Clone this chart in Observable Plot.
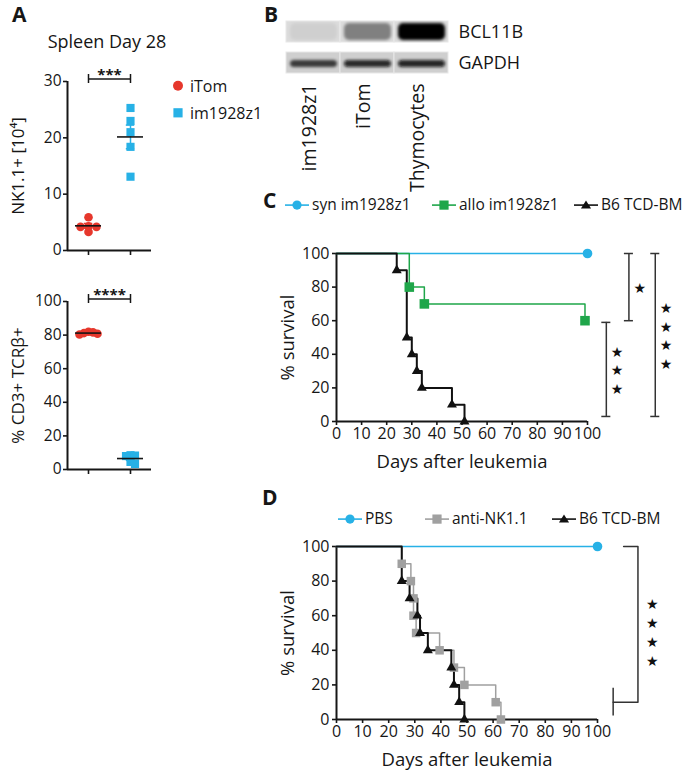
<!DOCTYPE html>
<html><head><meta charset="utf-8">
<script src="https://cdn.jsdelivr.net/npm/d3@7"></script>
<script src="https://cdn.jsdelivr.net/npm/@observablehq/plot@0.6"></script>
<style>
body{margin:0;background:#fff;}
#fig{position:relative;width:685px;height:772px;font-family:"Open Sans",sans-serif;color:#161616;overflow:hidden;background:#fff}
#fig svg{position:absolute;overflow:visible}
#fig svg g[aria-label$="axis tick"]{stroke-width:1.6px}
#fig svg g[aria-label$="tick label"]{font-weight:500}
.scat g[aria-label$="axis label"]{font-size:17px;font-weight:500}
.surv g[aria-label$="axis label"]{font-size:18.5px;font-weight:500}
.blot g[aria-label="y-axis tick label"]{font-size:18px}
.blot g[aria-label="x-axis tick label"]{font-size:19.5px}
</style></head><body><div id="fig"></div><script>
// ---------------- DATA ----------------
// Panel A
const groupsA = ["iTom", "im1928z1"];
const nkTicks = [0, 10, 20, 30];
const nk_iTom = [5.9, 4.3, 4.2, 4.2, 3.3];
const nk_im1928z1 = [25.3, 23.0, 21.0, 18.4, 13.1];
const cdTicks = [0, 20, 40, 60, 80, 100];
const cd_iTom = [82.0, 81.6, 81.2, 80.8, 80.4];
const cd_im1928z1 = [8.5, 8.3, 8.0, 4.5, 3.3];
// Panel B (western blot, relative band intensity)
const lanes = ["im1928z1", "iTom", "Thymocytes"];
const proteins = ["BCL11B", "GAPDH"];
const bcl11bSignal = [0.06, 0.42, 1.0];
const gapdhSignal = [0.72, 0.86, 0.88];
// Panels C/D shared ticks
const dayTicks = [0, 10, 20, 30, 40, 50, 60, 70, 80, 90, 100];
const survTicks = [0, 20, 40, 60, 80, 100];
// Panel C
const cNames = ["syn im1928z1", "allo im1928z1", "B6 TCD-BM"];
const cSynDays = [100], cSynSurv = [100];
const cAlloDays = [29, 35, 99], cAlloSurv = [80, 70, 60];
const cB6Days = [24, 28, 30, 32, 34, 46, 51], cB6Surv = [90, 50, 40, 30, 20, 10, 0];
const cStars = [1, 3, 4];
// Panel D
const dNames = ["PBS", "anti-NK1.1", "B6 TCD-BM"];
const dPbsDays = [100], dPbsSurv = [100];
const dNkDays = [25, 28.5, 29.5, 29.5, 30.5, 39.5, 45, 49, 61, 63], dNkSurv = [90, 80, 70, 60, 50, 40, 30, 20, 10, 0];
const dB6Days = [25, 28, 31, 32, 35, 44, 45, 47, 49], dB6Surv = [80, 70, 60, 50, 40, 30, 20, 10, 0];
const dStars = 4;

// ---------------- STYLE / HELPERS ----------------
const FONT = '"Open Sans", sans-serif';
const INK = "#161616";
const RED = "#e6372c", BLUE = "#27b1e6", GREEN = "#1fa64a", GRAY = "#a0a0a0", BLACK = "#111";
const fig = document.getElementById("fig");

function put(node, left, top) { node.style.left = left + "px"; node.style.top = top + "px"; fig.appendChild(node); return node; }
function label(str, x, y, {size = 16, weight = 400, anchor = "start"} = {}) {
  const d = document.createElement("div");
  d.textContent = str;
  const tx = anchor === "middle" ? "-50%" : anchor === "end" ? "-100%" : "0";
  Object.assign(d.style, {position: "absolute", left: x + "px", top: y + "px", fontSize: size + "px", fontWeight: weight,
    lineHeight: "1.15", whiteSpace: "nowrap", transform: `translate(${tx},-50%)`});
  fig.appendChild(d);
}
function icon(kind, color, lineColor, size) {
  const ns = "http://www.w3.org/2000/svg";
  const s = document.createElementNS(ns, "svg");
  s.setAttribute("width", 24); s.setAttribute("height", 14);
  s.style.position = "static";
  let inner = lineColor ? `<line x1="0" x2="24" y1="7" y2="7" stroke="${lineColor}" stroke-width="1.6"/>` : "";
  if (kind === "circle") inner += `<circle cx="12" cy="7" r="${size}" fill="${color}"/>`;
  if (kind === "square") inner += `<rect x="${12 - size}" y="${7 - size}" width="${2 * size}" height="${2 * size}" fill="${color}"/>`;
  if (kind === "triangle") inner += `<path d="M12,${7 - size}L${12 + size * 1.1},${7 + size * 0.75}L${12 - size * 1.1},${7 + size * 0.75}Z" fill="${color}"/>`;
  s.innerHTML = inner;
  return s;
}
function legend(items, y, size = 15.5) {
  for (const it of items) {
    const d = document.createElement("div");
    Object.assign(d.style, {position: "absolute", left: it.x + "px", top: y + "px", transform: "translateY(-50%)",
      display: "flex", alignItems: "center", fontSize: size + "px", whiteSpace: "nowrap", lineHeight: "1.15", fontWeight: 500});
    d.appendChild(icon(it.kind, it.color, it.line, it.size));
    const t = document.createElement("span"); t.textContent = it.text; t.style.marginLeft = (it.gap ?? 3) + "px";
    d.appendChild(t);
    fig.appendChild(d);
  }
}
// simple beeswarm: horizontal offsets (in px) so that markers do not coincide
function swarm(vals, pxPerY, step, minDist) {
  const placed = [];
  return vals.map(v => {
    const py = v * pxPerY;
    for (let k = 0; k < 20; k++) {
      for (const c of (k === 0 ? [0] : [k, -k])) {
        const px = c * step;
        if (placed.every(p => Math.hypot(p.x - px, p.y - py) >= minDist)) { placed.push({x: px, y: py}); return px; }
      }
    }
    return 0;
  });
}

// ---------------- PANEL A ----------------
function scatterPanel({a, b, ticks, max, yLabel, sig, top, mb, step, minDist}) {
  const W = 160, H = 200, ML = 67, MR = 9, MT = 21;
  const pxY = (H - MT - mb) / max, pxX = (W - ML - MR) / 2;
  const sets = [{vals: a, gi: 0, color: RED, symbol: "circle", r: 4.3}, {vals: b, gi: 1, color: BLUE, symbol: "square", r: 4.6}];
  const marks = [Plot.ruleX([-0.5], {stroke: INK, strokeWidth: 2}), Plot.ruleY([0], {stroke: INK, strokeWidth: 2})];
  for (const s of sets) {
    const off = swarm(s.vals, pxY, step, minDist);
    const rows = s.vals.map((v, k) => ({x: s.gi + off[k] / pxX, v}));
    const m = d3.mean(s.vals), sem = d3.deviation(s.vals) / Math.sqrt(s.vals.length);
    const st = [{gi: s.gi, m, lo: m - sem, hi: m + sem}];
    marks.push(
      Plot.ruleX(st, {x: "gi", y1: "lo", y2: "hi", stroke: s.color, strokeWidth: 1.5}),
      Plot.ruleY(st, {y: "lo", x1: d => d.gi - 0.1, x2: d => d.gi + 0.1, stroke: s.color, strokeWidth: 1.5}),
      Plot.ruleY(st, {y: "hi", x1: d => d.gi - 0.1, x2: d => d.gi + 0.1, stroke: s.color, strokeWidth: 1.5}),
      Plot.dot(rows, {x: "x", y: "v", symbol: s.symbol, fill: s.color, r: s.r}),
      Plot.ruleY(st, {y: "m", x1: d => d.gi - 0.31, x2: d => d.gi + 0.31, stroke: INK, strokeWidth: 1.6})
    );
  }
  const sigY = max + 2.5 / pxY, cap = 4.5 / pxY;
  marks.push(
    Plot.ruleY([sigY], {x1: 0, x2: 1, stroke: INK, strokeWidth: 1.5}),
    Plot.ruleX([0, 1], {y1: sigY - cap, y2: sigY + cap, stroke: INK, strokeWidth: 1.5}),
    Plot.text([sig], {x: 0.5, y: sigY, dy: -4, fontSize: 15, fontWeight: 700, fill: INK})
  );
  const p = Plot.plot({
    className: "scat", width: W, height: H, marginLeft: ML, marginRight: MR, marginTop: MT, marginBottom: mb,
    style: {fontFamily: FONT, fontSize: "15.5px", color: INK, background: "transparent"},
    x: {domain: [-0.5, 1.5], ticks: [0, 1], tickFormat: () => "", tickSize: 5, label: null},
    y: {domain: [0, max], ticks, tickSize: 4, tickPadding: 2, label: yLabel, labelAnchor: "center", labelArrow: "none", labelOffset: 56},
    marks
  });
  put(p, 0, top);
}
scatterPanel({a: nk_iTom, b: nk_im1928z1, ticks: nkTicks, max: 30, yLabel: "NK1.1+ [10⁴]", sig: "***", top: 60, mb: 10, step: 8, minDist: 5.5});
scatterPanel({a: cd_iTom, b: cd_im1928z1, ticks: cdTicks, max: 100, yLabel: "% CD3+ TCRβ+", sig: "****", top: 280, mb: 11, step: 4.5, minDist: 4.5});
label("A", 12, 14, {size: 21, weight: 700});
label("Spleen Day 28", 107, 41, {size: 18, anchor: "middle"});
legend([{x: 166, kind: "circle", color: RED, size: 5, text: "iTom", gap: 0}], 86, 16);
legend([{x: 166, kind: "square", color: BLUE, size: 4.6, text: "im1928z1", gap: 0}], 113, 16);

// ---------------- PANEL B ----------------
{
  const rows = proteins.flatMap(p => lanes.map((l, i) => ({protein: p, lane: l, signal: (p === "BCL11B" ? bcl11bSignal : gapdhSignal)[i]})));
  const p = Plot.plot({
    className: "blot", width: 250, height: 175, marginLeft: 5, marginRight: 81, marginTop: 6, marginBottom: 116,
    style: {fontFamily: FONT, fontSize: "18px", color: INK, background: "transparent"},
    x: {domain: lanes, padding: 0, label: null},
    y: {domain: proteins, paddingInner: 0.32, paddingOuter: 0, axis: "right", tickSize: 0, tickPadding: 9, label: null},
    opacity: {domain: [0, 1], range: [0, 1]},
    marks: [
      Plot.cell(rows, {x: "lane", y: "protein", fill: d => d.protein === "BCL11B" ? "#dcdcdc" : "#cfcfcf", stroke: "#e8e8e8", strokeWidth: 1}),
      Plot.cell(rows.filter(d => d.protein === "BCL11B"), {x: "lane", y: "protein", fill: "#050505", fillOpacity: "signal", insetTop: 2, insetBottom: 2, insetLeft: 4, insetRight: 3, rx: 5}),
      Plot.cell(rows.filter(d => d.protein === "GAPDH"), {x: "lane", y: "protein", fill: "#080808", fillOpacity: "signal", insetTop: 8, insetBottom: 6, insetLeft: 4, insetRight: 3, rx: 4}),
      Plot.axisX({anchor: "bottom", tickRotate: -90, tickSize: 0, tickPadding: 9, dx: -4, label: null})
    ]
  });
  p.insertAdjacentHTML("afterbegin", '<defs><filter id="bl" x="-20%" y="-60%" width="140%" height="220%"><feGaussianBlur stdDeviation="1.8"/></filter></defs>');
  p.querySelectorAll('g[aria-label="cell"]').forEach((g, i) => { if (i > 0) g.setAttribute("filter", "url(#bl)"); });
  put(p, 280, 15);
  label("B", 264, 14, {size: 21, weight: 700});
}

// ---------------- PANELS C & D ----------------
function survivalPlot({series, top, mt, mb, mr, extra}) {
  const marks = [Plot.ruleX([0], {stroke: INK, strokeWidth: 2}), Plot.ruleY([0], {stroke: INK, strokeWidth: 2})];
  for (const s of series) {
    const pts = [{d: 0, s: 100}, ...s.days.map((d, i) => ({d, s: s.surv[i]}))];
    marks.push(Plot.line(pts, {x: "d", y: "s", curve: "step-after", stroke: s.color, strokeWidth: s.w}));
  }
  for (const s of series) {
    const pts = s.days.map((d, i) => ({d, s: s.surv[i]}));
    marks.push(Plot.dot(pts, {x: "d", y: "s", symbol: s.symbol, fill: s.color, r: s.r}));
  }
  marks.push(...extra);
  const p = Plot.plot({
    className: "surv", width: 435, height: 250, marginLeft: 86, marginRight: mr, marginTop: mt, marginBottom: mb,
    style: {fontFamily: FONT, fontSize: "16px", color: INK, background: "transparent"},
    x: {domain: [0, 100], ticks: dayTicks, tickSize: 4, tickPadding: 2, label: "Days after leukemia", labelAnchor: "center", labelArrow: "none", labelOffset: 46},
    y: {domain: [0, 100], ticks: survTicks, tickSize: 4, tickPadding: 3, label: "% survival", labelAnchor: "center", labelArrow: "none", labelOffset: 56},
    marks
  });
  put(p, 250, top);
}
function bracketMarks(x, lo, hi, stars, capW) {
  const b = [{x, lo, hi}];
  return [
    Plot.ruleX(b, {x: "x", y1: "lo", y2: "hi", stroke: "#333", strokeWidth: 1.5}),
    Plot.ruleY([lo, hi], {x1: x - capW, x2: x + capW, stroke: "#333", strokeWidth: 1.5}),
    Plot.text([Array(stars).fill("★").join("\n")], {x: x + 4.3, y: (lo + hi) / 2, fontSize: 14, lineHeight: 1.35, fill: BLACK, fontFamily: "DejaVu Sans"})
  ];
}
const cSeries = [
  {name: cNames[0], days: cSynDays, surv: cSynSurv, color: BLUE, w: 1.4, symbol: "circle", r: 4.8},
  {name: cNames[1], days: cAlloDays, surv: cAlloSurv, color: GREEN, w: 1.5, symbol: "square", r: 5.4},
  {name: cNames[2], days: cB6Days, surv: cB6Surv, color: BLACK, w: 2, symbol: "triangle", r: 3.7}
];
const endC = s => s.surv[s.surv.length - 1];
survivalPlot({
  series: cSeries, top: 225, mt: 28, mb: 54, mr: 98,
  extra: [
    ...bracketMarks(116.5, endC(cSeries[1]), endC(cSeries[0]), cStars[0], 1.8),
    ...bracketMarks(107.5, Math.max(endC(cSeries[2]), 3), endC(cSeries[1]) - 1, cStars[1], 1.8),
    ...bracketMarks(127, Math.max(endC(cSeries[2]), 3), endC(cSeries[0]), cStars[2], 1.8)
  ]
});
label("C", 263, 200, {size: 21, weight: 700});
legend([
  {x: 285, kind: "circle", color: BLUE, line: BLUE, size: 4.6, text: cNames[0]},
  {x: 432, kind: "square", color: GREEN, line: GREEN, size: 4.6, text: cNames[1]},
  {x: 574, kind: "triangle", color: BLACK, line: BLACK, size: 4.6, text: cNames[2]}
], 205);

const dSeries = [
  {name: dNames[0], days: dPbsDays, surv: dPbsSurv, color: BLUE, w: 1.4, symbol: "circle", r: 4.8},
  {name: dNames[1], days: dNkDays, surv: dNkSurv, color: GRAY, w: 1.5, symbol: "square", r: 4.8},
  {name: dNames[2], days: dB6Days, surv: dB6Surv, color: BLACK, w: 2, symbol: "triangle", r: 3.7}
];
const dBracket = [{x: 110, y: 100}, {x: 115.5, y: 100}, {x: 115.5, y: 10}, {x: 106, y: 10}];
survivalPlot({
  series: dSeries, top: 520, mt: 26, mb: 51, mr: 88,
  extra: [
    Plot.line(dBracket, {x: "x", y: "y", stroke: "#333", strokeWidth: 1.5}),
    Plot.ruleX([106], {y1: 2, y2: 18, stroke: "#333", strokeWidth: 1.5}),
    Plot.text([Array(dStars).fill("★").join("\n")], {x: 121, y: 51, fontSize: 14, lineHeight: 1.35, fill: BLACK, fontFamily: "DejaVu Sans"})
  ]
});
label("D", 262, 497, {size: 21, weight: 700});
legend([
  {x: 338, kind: "circle", color: BLUE, line: BLUE, size: 4.6, text: dNames[0]},
  {x: 425, kind: "square", color: GRAY, line: GRAY, size: 4.6, text: dNames[1]},
  {x: 552, kind: "triangle", color: BLACK, line: BLACK, size: 4.6, text: dNames[2]}
], 519);
</script></body></html>
